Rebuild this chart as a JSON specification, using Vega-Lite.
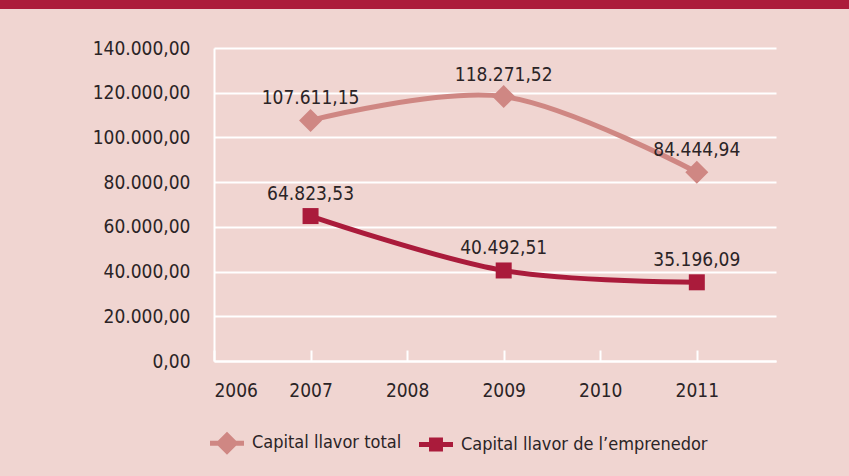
{
  "$schema": "https://vega.github.io/schema/vega-lite/v6.json",
  "width": 562,
  "height": 313,
  "autosize": {"type": "none"},
  "padding": {"left": 214, "top": 48, "right": 73, "bottom": 115},
  "background": "#f0d5d1",
  "config": {
    "view": {"stroke": null},
    "font": "DejaVu Sans Condensed, sans-serif",
    "locale": {"number": {"decimal": ",", "thousands": ".", "grouping": [3], "currency": ["", " €"]}}
  },
  "data": {
    "values": [
      {"year": 2007, "serie": "Capital llavor total", "valor": 107611.15},
      {"year": 2009, "serie": "Capital llavor total", "valor": 118271.52},
      {"year": 2011, "serie": "Capital llavor total", "valor": 84444.94},
      {"year": 2007, "serie": "Capital llavor de l’emprenedor", "valor": 64823.53},
      {"year": 2009, "serie": "Capital llavor de l’emprenedor", "valor": 40492.51},
      {"year": 2011, "serie": "Capital llavor de l’emprenedor", "valor": 35196.09}
    ]
  },
  "layer": [
    {
      "data": {"values": [{"band": 1}]},
      "mark": {"type": "rect", "color": "#ac1c3a", "clip": false},
      "encoding": {
        "x": {"value": -214},
        "x2": {"value": 635},
        "y": {"value": -48},
        "y2": {"value": -39}
      }
    },
    {
      "transform": [{"filter": "datum.serie === 'Capital llavor total'"}],
      "mark": {"type": "line", "interpolate": "cardinal", "strokeWidth": 5, "color": "#cf8783"},
      "encoding": {
        "x": {
          "field": "year", "type": "quantitative",
          "scale": {"domain": [2006, 2011.82], "nice": false, "zero": false},
          "axis": {
            "title": null, "values": [2006, 2007, 2008, 2009, 2010, 2011], "format": "d",
            "grid": false, "domainColor": "#ffffff", "domainWidth": 2,
            "tickColor": "#ffffff", "tickWidth": 2, "tickSize": -11,
            "labelFontSize": 19, "labelColor": "#2b2426", "labelPadding": 31
          }
        },
        "y": {
          "field": "valor", "type": "quantitative",
          "scale": {"domain": [0, 140000], "nice": false},
          "axis": {
            "title": null, "values": [0, 20000, 40000, 60000, 80000, 100000, 120000, 140000],
            "format": ",.2f", "grid": true, "gridColor": "#ffffff", "gridWidth": 2,
            "domainColor": "#ffffff", "domainWidth": 2, "ticks": false,
            "labelFontSize": 19, "labelColor": "#2b2426", "labelPadding": 24,
            "encode": {"labels": {"update": {"dy": {"signal": "1 + 7 * datum.value / 140000"}}}}
          }
        }
      }
    },
    {
      "transform": [{"filter": "datum.serie === 'Capital llavor de l’emprenedor'"}],
      "mark": {"type": "line", "interpolate": "cardinal", "strokeWidth": 5, "color": "#aa1b3b"},
      "encoding": {
        "x": {"field": "year", "type": "quantitative"},
        "y": {"field": "valor", "type": "quantitative"}
      }
    },
    {
      "mark": {"type": "point", "filled": true, "opacity": 1, "size": 1},
      "encoding": {
        "x": {"field": "year", "type": "quantitative"},
        "y": {"field": "valor", "type": "quantitative"},
        "color": {
          "field": "serie", "type": "nominal",
          "scale": {"domain": ["Capital llavor total", "Capital llavor de l’emprenedor"], "range": ["#cf8783", "#aa1b3b"]},
          "legend": {
            "title": null, "orient": "none", "direction": "horizontal", "columns": 2,
            "legendX": -5, "legendY": 377,
            "symbolSize": 1156, "symbolOpacity": 1, "labelFontSize": 18, "labelColor": "#2b2426",
            "labelOffset": 7, "columnPadding": 16, "labelLimit": 400,
            "encode": {"symbols": {"update": {"opacity": {"value": 1}, "size": {"value": 1156}}}}
          }
        },
        "shape": {
          "field": "serie", "type": "nominal",
          "scale": {"domain": ["Capital llavor total", "Capital llavor de l’emprenedor"], "range": ["M-1,-0.15L1,-0.15L1,0.15L-1,0.15ZM0,-0.68L0.68,0L0,0.68L-0.68,0Z", "M-1,-0.15L1,-0.15L1,0.15L-1,0.15ZM-0.41,-0.41L0.41,-0.41L0.41,0.41L-0.41,0.41Z"]}
        }
      }
    },
    {
      "transform": [{"filter": "datum.serie === 'Capital llavor total'"}],
      "mark": {"type": "point", "filled": true, "opacity": 1, "size": 529, "shape": "M0,-1L1,0L0,1L-1,0Z", "color": "#cf8783"},
      "encoding": {
        "x": {"field": "year", "type": "quantitative"},
        "y": {"field": "valor", "type": "quantitative"}
      }
    },
    {
      "transform": [{"filter": "datum.serie === 'Capital llavor de l’emprenedor'"}],
      "mark": {"type": "point", "filled": true, "opacity": 1, "size": 256, "shape": "square", "color": "#aa1b3b"},
      "encoding": {
        "x": {"field": "year", "type": "quantitative"},
        "y": {"field": "valor", "type": "quantitative"}
      }
    },
    {
      "mark": {"type": "text", "dy": -16, "baseline": "alphabetic", "align": "center", "fontSize": 19, "color": "#2b2426"},
      "encoding": {
        "x": {"field": "year", "type": "quantitative"},
        "y": {"field": "valor", "type": "quantitative"},
        "text": {"field": "valor", "type": "quantitative", "format": ",.2f"}
      }
    }
  ]
}
